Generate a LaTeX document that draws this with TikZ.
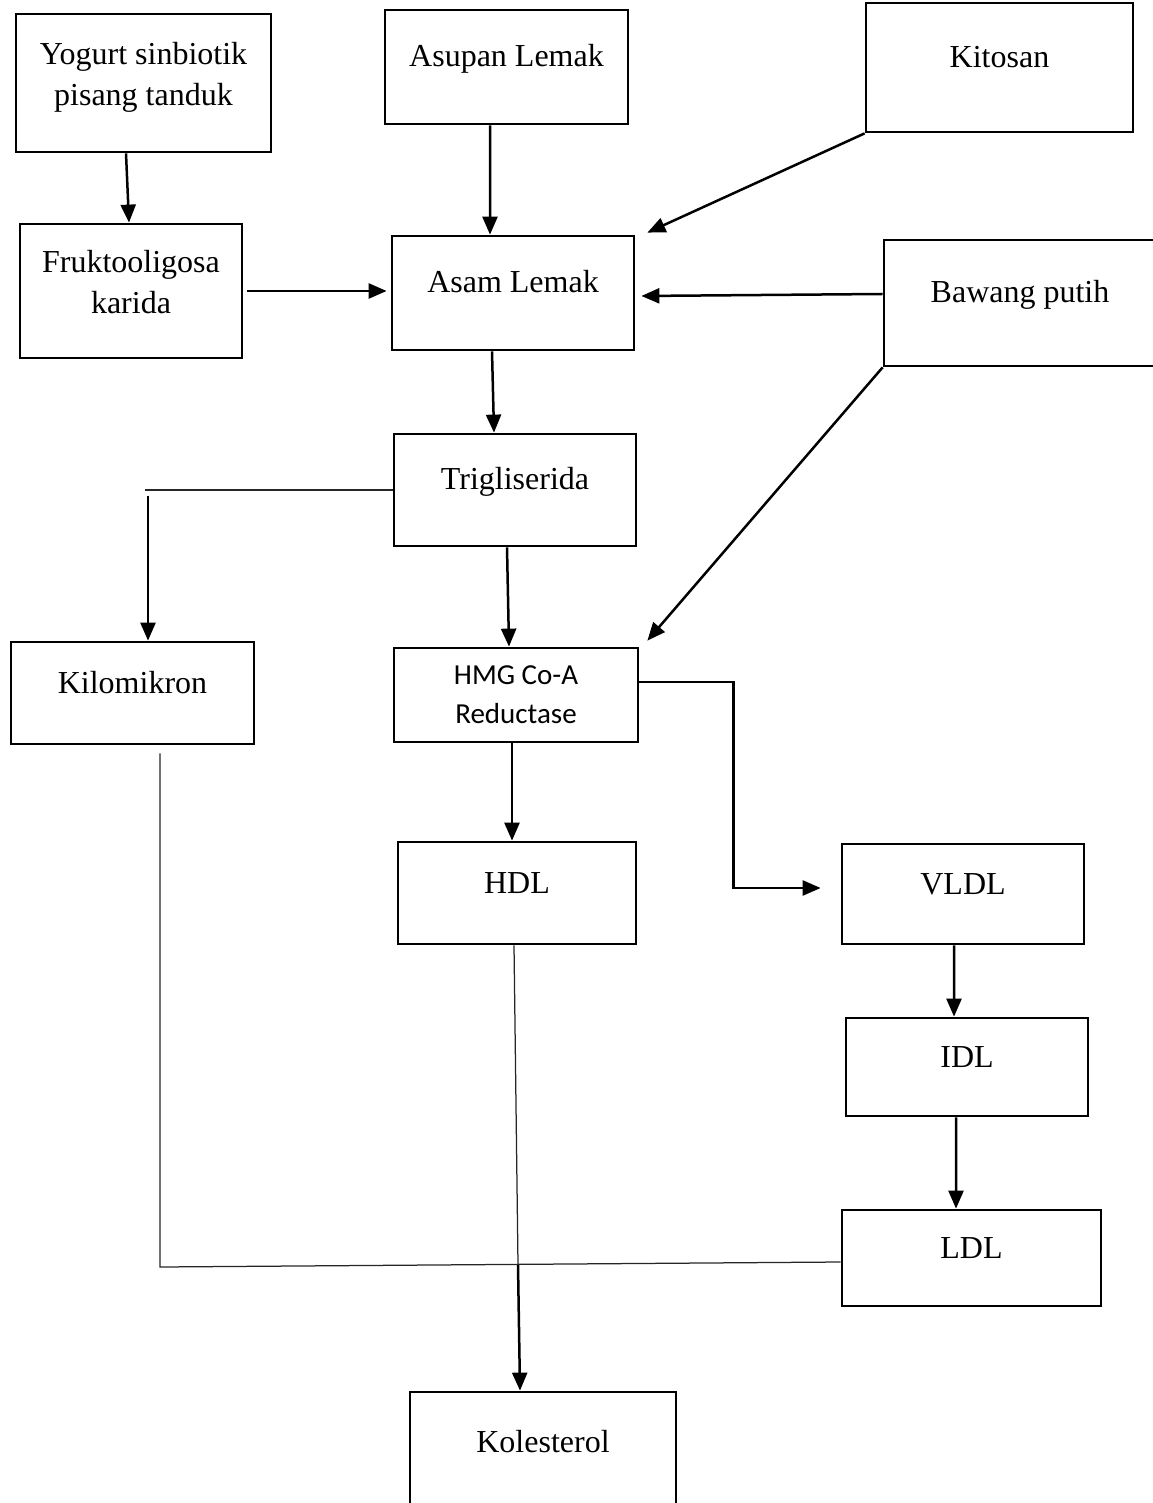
\documentclass[tikz,border=0pt]{standalone}
\usepackage{fontspec}
\setmainfont{Liberation Serif}
\newfontfamily\calibrifont{Carlito}
\usetikzlibrary{arrows.meta, positioning, calc}
\tikzset{
  box/.style = {rectangle, draw, line width=1.1pt, align=center, inner sep=0pt,
    font=\fontsize{12.8}{16.4}\selectfont},
  raised/.style = {text height=9pt, text depth=9pt},
  arrow/.style = {line width=1pt, -{Triangle[length=7.2pt,width=6pt]}},
  thinline/.style = {line width=0.5pt, draw=black!85},
}

\begin{document}
\begin{tikzpicture}[x=0.4pt, y=-0.4pt]
  \useasboundingbox (0,0) rectangle (1152,1503);

  % Top row
  \node[box, minimum width=102pt, minimum height=55.2pt, text depth=7pt] (yog) at (143.5,83) {Yogurt sinbiotik\\pisang tanduk};
  \node[box, raised, minimum width=97.2pt, minimum height=45.6pt] (asupan) at (506.5,67) {Asupan Lemak};
  \node[box, raised, minimum width=106.8pt, minimum height=51.6pt] (kitosan) at (999.5,67.5) {Kitosan};

  % Second row
  \node[box, minimum width=88.8pt, minimum height=53.6pt, text depth=7pt] (fos) at (131,291) {Fruktooligosa\\karida};
  \node[box, raised, minimum width=96.8pt, minimum height=45.6pt] (asam) at (513,293) {Asam Lemak};
  \node[box, raised, minimum width=108.8pt, minimum height=50.4pt] (bawang) at (1020,303) {Bawang putih};

  % Middle
  \node[box, raised, minimum width=96.8pt, minimum height=44.8pt] (trig) at (515,490) {Trigliserida};
  \node[box, raised, minimum width=97.2pt, minimum height=40.8pt] (kilo) at (132.5,693) {Kilomikron};
  \node[box, minimum width=97.6pt, minimum height=37.6pt,
        font=\calibrifont\fontsize{11.6}{15.6}\selectfont] (hmg) at (516,695) {HMG Co-A\\Reductase};

  % Lipoproteins
  \node[box, raised, minimum width=95.2pt, minimum height=40.8pt] (hdl) at (517,893) {HDL};
  \node[box, raised, minimum width=96.8pt, minimum height=40pt] (vldl) at (963,894) {VLDL};
  \node[box, raised, minimum width=96.8pt, minimum height=39.2pt] (idl) at (967,1067) {IDL};
  \node[box, raised, minimum width=103.6pt, minimum height=38.4pt] (ldl) at (971.5,1258) {LDL};
  \node[box, raised, minimum width=106.4pt, minimum height=48pt] (kol) at (543,1452) {Kolesterol};

  % Junction points
  \coordinate (tk) at (148,490);
  \coordinate (kj) at (160,1267);
  \coordinate (cj) at (518,1265);

  % Arrows into Asam Lemak
  \draw[arrow] ([xshift=-7pt]yog.south) -- ([xshift=-0.8pt]fos.north);
  \draw[arrow] ([xshift=-6.6pt]asupan.south) -- ([xshift=-9.2pt]asam.north);
  \draw[arrow] (kitosan.south west) -- ([xshift=4.8pt,yshift=0.8pt]asam.north east);
  \draw[arrow] ([xshift=1.6pt]fos.east) -- ([xshift=-1.6pt]fos.east -| asam.west);
  \draw[arrow] ([yshift=3.6pt]bawang.west) -- ([xshift=2.4pt,yshift=-1.2pt]asam.east);
  \draw[arrow] ([xshift=-8.4pt]asam.south) -- ([xshift=-8.4pt]trig.north);

  % Trigliserida branches
  \draw[thinline] (trig.west) -- ([xshift=-1.2pt]tk);
  \draw[arrow] ([yshift=-2.4pt]tk) -- (tk |- kilo.north);
  \draw[arrow] ([xshift=-3.2pt]trig.south) -- ([xshift=-2.8pt]hmg.north);
  \draw[arrow] (bawang.south west) -- ([xshift=3.2pt,yshift=2.4pt]hmg.north east);

  % HMG Co-A Reductase outputs
  \draw[arrow] ([xshift=-1.6pt]hmg.south) -- ([xshift=-2pt]hdl.north);
  \draw[arrow] ([yshift=5.2pt]hmg.east) -- ++(94,0) |- ([xshift=-8pt,yshift=2.4pt]vldl.west);
  \draw[arrow] ([xshift=-3.6pt]vldl.south) -- ([xshift=-5.2pt]idl.north);
  \draw[arrow] ([xshift=-4.4pt]idl.south) -- ([xshift=-6.2pt]ldl.north);

  % Into Kolesterol
  \draw[thinline] ([xshift=11pt,yshift=-3.2pt]kilo.south) -- (kj) -- ([yshift=-1.6pt]ldl.west);
  \draw[thinline] ([xshift=-1.2pt]hdl.south) -- (cj);
  \draw[arrow] (cj) -- ([xshift=-9.2pt]kol.north);

\end{tikzpicture}
\end{document}
